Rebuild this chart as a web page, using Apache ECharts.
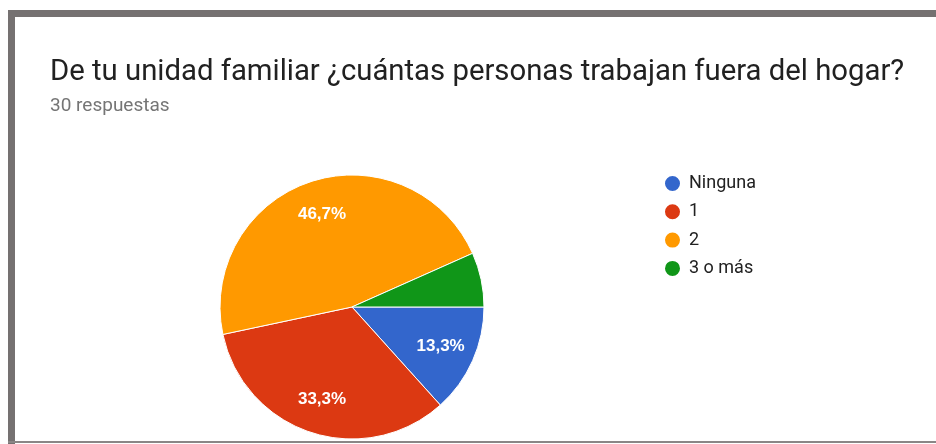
<!DOCTYPE html>
<html>
<head>
<meta charset="utf-8">
<script src="https://cdn.jsdelivr.net/npm/echarts@6/dist/echarts.min.js"></script>
<style>
  html, body { margin: 0; padding: 0; background: #fff; }
  #chart { width: 936px; height: 444px; }
</style>
</head>
<body>
<div id="chart"></div>
<script>
const titleText = 'De tu unidad familiar ¿cuántas personas trabajan fuera del hogar?'
const subText = '30 respuestas'
const categories = ['Ninguna', '1', '2', '3 o más']
const counts = [4, 10, 14, 2]
const colors = ['#3366cc', '#dc3912', '#ff9900', '#109618']

const mychart = echarts.init(document.getElementById('chart'))

const pieData = categories.map((name, i) => ({
  name: name,
  value: counts[i],
  itemStyle: { color: colors[i] }
}))

const option = {
  animation: false,
  title: [
    {
      text: titleText,
      left: 50,
      top: 58,
      padding: 0,
      textStyle: {
        fontFamily: 'Roboto',
        fontWeight: 'normal',
        fontSize: 29.3,
        lineHeight: 29,
        color: '#212121'
      }
    },
    {
      text: subText,
      left: 50,
      top: 97,
      padding: 0,
      textStyle: {
        fontFamily: 'Roboto',
        fontWeight: 'normal',
        fontSize: 19,
        lineHeight: 19,
        color: '#757575'
      }
    }
  ],
  legend: {
    orient: 'vertical',
    left: 658,
    top: 169,
    icon: 'circle',
    itemWidth: 17,
    itemHeight: 17,
    itemGap: 9.3,
    data: categories,
    selectedMode: false,
    textStyle: {
      fontFamily: 'Roboto',
      fontSize: 18,
      lineHeight: 17,
      color: '#212121',
      padding: [0, 0, 0, 3]
    }
  },
  graphic: [
    // marco gris de la captura
    { type: 'rect', shape: { x: 8, y: 10, width: 928, height: 7 }, style: { fill: '#757171' } },
    { type: 'rect', shape: { x: 8, y: 10, width: 7, height: 434 }, style: { fill: '#757171' } },
    { type: 'rect', shape: { x: 8, y: 441, width: 928, height: 2 }, style: { fill: '#8a8686' } }
  ],
  series: [
    {
      type: 'pie',
      center: [352, 307],
      radius: [0, 132],
      startAngle: 0,
      clockwise: true,
      silent: true,
      data: pieData,
      label: { show: false },
      labelLine: { show: false },
      itemStyle: { borderColor: '#fff', borderWidth: 1 }
    },
    {
      // serie auxiliar solo para colocar las etiquetas a ~0.7 del radio
      type: 'pie',
      center: [352, 307],
      radius: [0, 188],
      startAngle: 0,
      clockwise: true,
      silent: true,
      z: 3,
      data: categories.map((name, i) => ({ name: name, value: counts[i] })),
      itemStyle: { color: 'rgba(0,0,0,0)' },
      labelLine: { show: false },
      label: {
        show: true,
        position: 'inside',
        fontFamily: 'Liberation Sans, Arial',
        fontWeight: 'bold',
        fontSize: 17,
        color: '#fff',
        formatter: function (p) {
          return p.percent < 10 ? '' : p.percent.toFixed(1).replace('.', ',') + '%'
        }
      }
    }
  ]
}
mychart.setOption(option)
</script>
</body>
</html>
